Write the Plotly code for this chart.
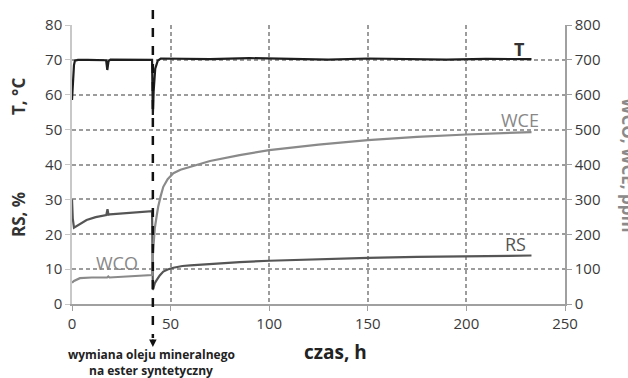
import plotly.graph_objects as go

# --- data ---
t_T = [0, 0.5, 1, 1.5, 3, 8, 17.3, 17.9, 18.5, 19.5, 30, 40.6, 41.0, 41.4, 42.2, 43.5, 45, 55, 70, 90, 110, 130, 150, 170, 190, 210, 233]
T_vals = [58.5, 64, 68.5, 69.8, 70.0, 70.0, 69.9, 67.1, 69.6, 70.1, 70.0, 70.0, 54.2, 61, 67.5, 69.8, 70.4, 70.4, 70.2, 70.5, 70.3, 70.1, 70.4, 70.2, 70.1, 70.3, 70.2]

t_RS = [0, 0.4, 1, 3, 7.4, 12, 17.4, 18.0, 18.5, 19.2, 25, 33, 40.6, 41.0, 42, 43, 44.5, 46.3, 48.5, 51.4, 56, 60, 70, 85, 100, 125, 150, 175, 200, 233]
RS_vals = [30, 24.5, 21.9, 22.6, 24.1, 24.9, 25.5, 27.2, 25.6, 25.7, 26.0, 26.3, 26.6, 4.0, 6.0, 6.9, 8.2, 9.3, 9.9, 10.4, 10.9, 11.1, 11.5, 12.0, 12.4, 12.9, 13.2, 13.5, 13.7, 13.9]

t_W = [0, 1, 4, 10, 17.8, 18.4, 19, 28, 40.6, 41.1, 41.6, 42, 43, 43.7, 45, 46.3, 48.5, 51.4, 55, 60, 70, 85, 100, 125, 150, 175, 200, 233]
W_vals = [61, 66, 74, 76, 76, 79, 76, 79, 83, 150, 190, 218, 255, 279, 310, 336, 358, 375, 385, 393, 410, 427, 441, 457, 470, 479, 486, 493]

x_ticks = [0, 50, 100, 150, 200, 250]
y_ticks = [0, 10, 20, 30, 40, 50, 60, 70, 80]
y2_ticks = [0, 100, 200, 300, 400, 500, 600, 700, 800]
t_change = 41

FONT = "Open Sans"
tickfont = dict(family=FONT, size=15, color="#3a3a3a")

fig = go.Figure()

fig.add_trace(go.Scatter(x=t_W, y=W_vals, mode="lines", yaxis="y2",
                         line=dict(color="#8a8a8a", width=2.2), showlegend=False))
fig.add_trace(go.Scatter(x=t_RS, y=RS_vals, mode="lines",
                         line=dict(color="#555555", width=2.2), showlegend=False))
fig.add_trace(go.Scatter(x=t_T, y=T_vals, mode="lines",
                         line=dict(color="#1e1e1e", width=2.2), showlegend=False))

fig.update_layout(
    width=628, height=378,
    margin=dict(l=72, r=63, t=25, b=74),
    plot_bgcolor="white", paper_bgcolor="white",
    font=dict(family=FONT, color="#3a3a3a"),
    xaxis=dict(range=[0, 250], tickvals=x_ticks, showgrid=True, gridcolor="#9c9c9c",
               gridwidth=1.5, griddash="4px,3px", zeroline=False, showline=True,
               linecolor="#a0a0a0", linewidth=1.5, ticks="outside", ticklen=5,
               tickcolor="#a0a0a0", tickfont=tickfont),
    yaxis=dict(range=[0, 80], tickvals=y_ticks, showgrid=True, gridcolor="#9c9c9c",
               gridwidth=1.5, griddash="4px,3px", zeroline=False, showline=True,
               linecolor="#c8c8c8", linewidth=1.5, ticks="outside", ticklen=5,
               tickcolor="#c8c8c8", tickfont=tickfont),
    yaxis2=dict(range=[0, 800], tickvals=y2_ticks, overlaying="y", side="right",
                showgrid=False, zeroline=False, showline=True, linecolor="#a0a0a0",
                linewidth=1.5, ticks="outside", ticklen=5, tickcolor="#a0a0a0",
                tickfont=tickfont),
)

# pixel -> paper coordinate helpers (plot area 72..565 x, 25..304 y)
def px(xp):
    return (xp - 72) / (565 - 72)
def py(yp):
    return (304 - yp) / (304 - 25)

def text_at(xp, yp, text, size, color, angle=0):
    fig.add_annotation(x=px(xp), y=py(yp), xref="paper", yref="paper",
                       xanchor="center", yanchor="middle", text=text,
                       textangle=angle, showarrow=False,
                       font=dict(family=FONT, size=size, color=color))

# vertical dashed change line
fig.add_shape(type="line", x0=t_change, x1=t_change, xref="x", yref="paper",
              y0=py(10), y1=py(338), line=dict(color="#111111", width=2.5, dash="dash"))
fig.add_annotation(x=t_change, y=py(347), xref="x", yref="paper", ax=0, ay=-9,
                   showarrow=True, arrowhead=2, arrowsize=1, arrowwidth=1.5,
                   arrowcolor="#111111", text="")

# axis titles
text_at(18, 97, "<b>T, °C</b>", 17, "#333333", -90)
text_at(18, 215, "<b>RS, %</b>", 17, "#333333", -90)
text_at(629, 165, "<b>WCO, WCE, ppm</b>", 17, "#8a8a8a", 90)
text_at(335, 352, "<b>czas, h</b>", 19, "#222222")
text_at(151, 354, "<b>wymiana oleju mineralnego</b>", 12, "#222222")
text_at(151, 370, "<b>na ester syntetyczny</b>", 12, "#222222")

# series labels
fig.add_annotation(x=227, y=73.1, text="<b>T</b>", showarrow=False,
                   font=dict(family=FONT, size=18, color="#333333"))
fig.add_annotation(x=227, y=52.9, text="WCE", showarrow=False,
                   font=dict(family=FONT, size=18, color="#888888"))
fig.add_annotation(x=225, y=17.2, text="RS", showarrow=False,
                   font=dict(family=FONT, size=18, color="#555555"))
fig.add_annotation(x=23, y=11.75, text="WCO", showarrow=False,
                   font=dict(family=FONT, size=18, color="#888888"))

fig.write_html("out.html")
